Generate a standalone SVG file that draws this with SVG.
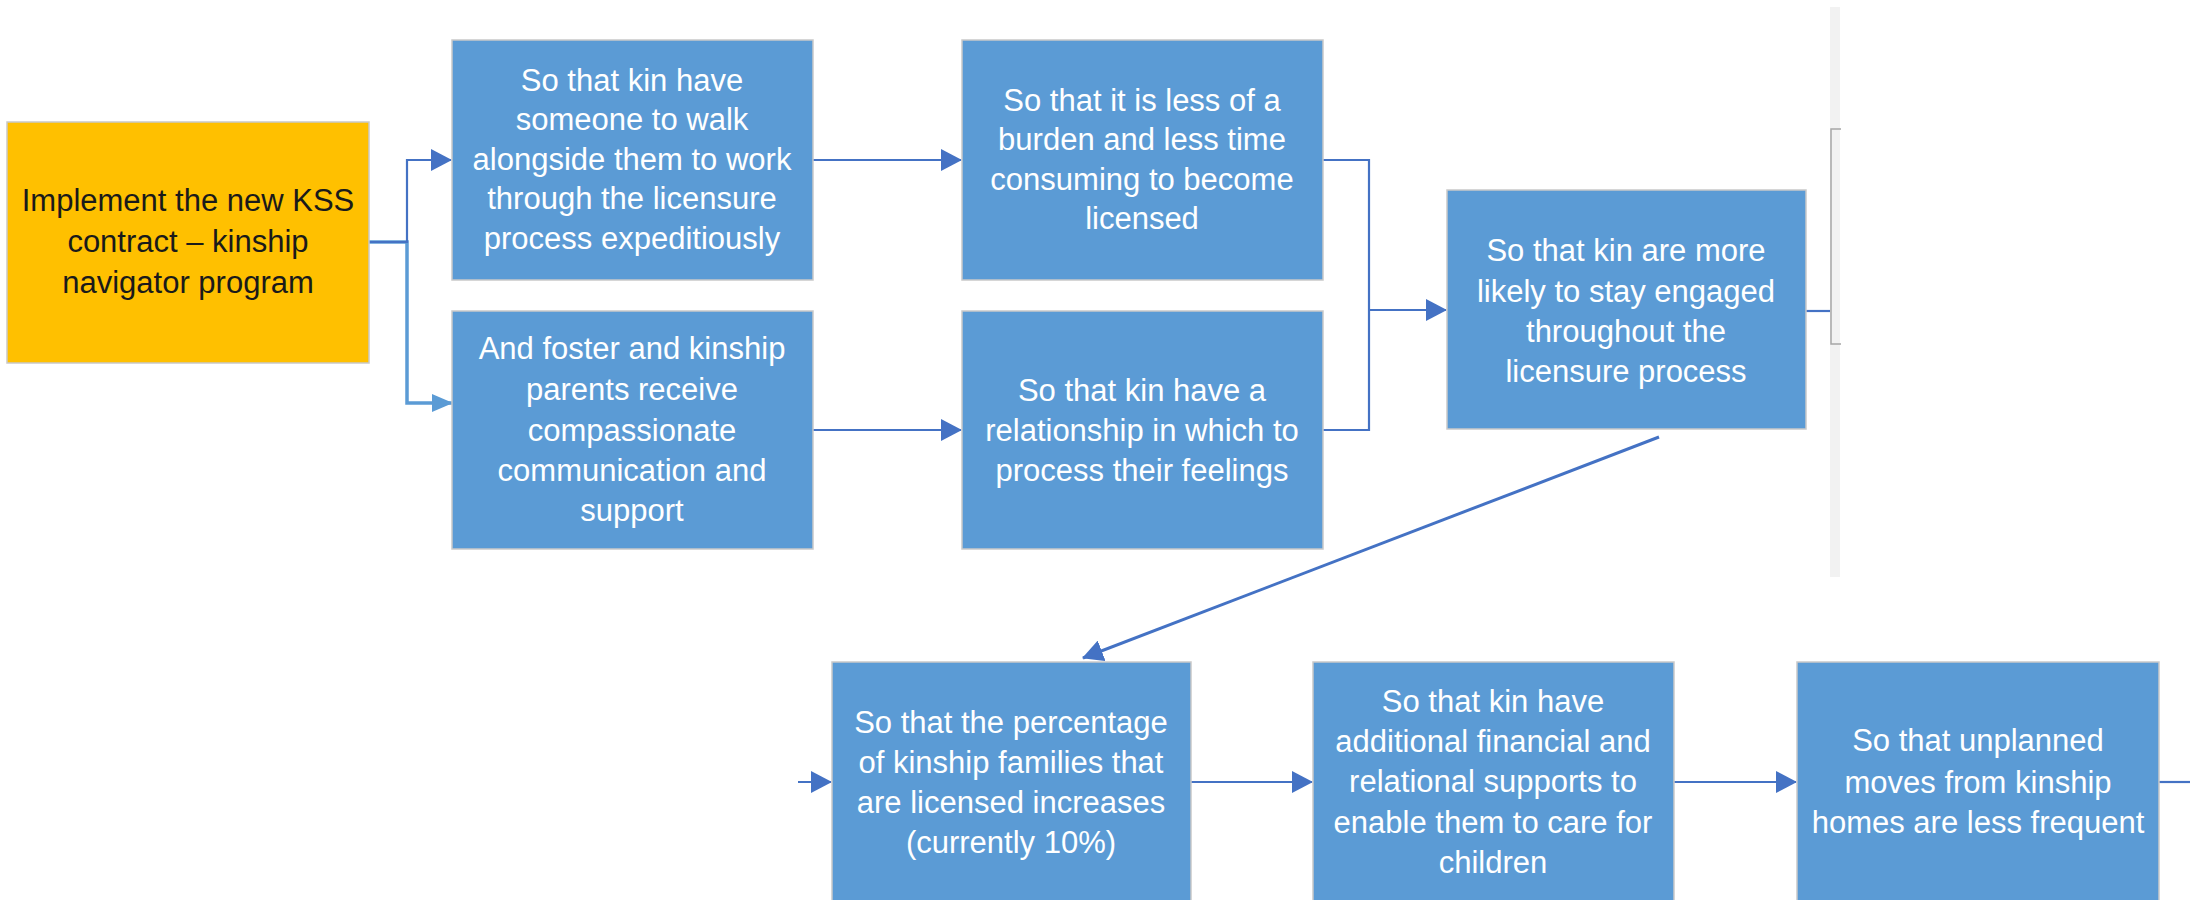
<svg xmlns="http://www.w3.org/2000/svg" width="2190" height="900" viewBox="0 0 2190 900">
<defs>
<style>
.box{fill:#5B9BD5;stroke:#C9C9C9;stroke-width:1.5}
.org{fill:#FFC000;stroke:#C9C9C9;stroke-width:1.5}
.t{font-family:"Liberation Sans",Arial,sans-serif;font-size:31px;fill:#FFFFFF;text-anchor:middle}
.tk{fill:#1A1A1A}
.c{fill:none;stroke:#4472C4;stroke-width:2.2}
</style>
<marker id="ah" markerUnits="userSpaceOnUse" markerWidth="22" markerHeight="22" refX="20" refY="11" orient="auto">
<path d="M0,0 L21,11 L0,22 Z" fill="#4472C4"/>
</marker>
<marker id="ah2" markerUnits="userSpaceOnUse" markerWidth="22" markerHeight="22" refX="20" refY="11" orient="auto">
<path d="M0,2 L21,11 L0,20 Z" fill="#5B9BD5"/>
</marker>
</defs>
<rect x="0" y="0" width="2190" height="900" fill="#FFFFFF"/>
<rect x="1830" y="7" width="10" height="570" fill="#F2F2F2"/>
<path d="M1841,129 H1831 V344 H1841" fill="none" stroke="#A6A6A6" stroke-width="1.5"/>

<g id="connectors">
<path class="c" d="M369,242 H407 V403 H452" style="stroke:#5B9BD5;stroke-width:3.5" marker-end="url(#ah2)"/>
<path class="c" d="M369,242 H407 V160 H451" marker-end="url(#ah)"/>
<path class="c" d="M813,160 H961" marker-end="url(#ah)"/>
<path class="c" d="M813,430 H961" marker-end="url(#ah)"/>
<path class="c" d="M1323,160 H1369 V430 H1323"/>
<path class="c" d="M1369,310 H1446" marker-end="url(#ah)"/>
<path class="c" d="M1806,311 H1830"/>
<path class="c" d="M1659,437 L1083,658" style="stroke-width:3" marker-end="url(#ah)"/>
<path class="c" d="M798,782 H831" marker-end="url(#ah)"/>
<path class="c" d="M1191,782 H1312" marker-end="url(#ah)"/>
<path class="c" d="M1674,782 H1796" marker-end="url(#ah)"/>
<path class="c" d="M2159,782 H2190"/>
</g>

<g id="n1">
<rect class="org" x="7" y="122" width="362" height="241"/>
<text class="t tk" x="188" y="211">Implement the new KSS</text>
<text class="t tk" x="188" y="252">contract – kinship</text>
<text class="t tk" x="188" y="293">navigator program</text>
</g>

<g id="n2">
<rect class="box" x="452" y="40" width="361" height="240"/>
<text class="t" x="632" y="91">So that kin have</text>
<text class="t" x="632" y="130">someone to walk</text>
<text class="t" x="632" y="170">alongside them to work</text>
<text class="t" x="632" y="209">through the licensure</text>
<text class="t" x="632" y="249">process expeditiously</text>
</g>

<g id="n3">
<rect class="box" x="452" y="311" width="361" height="238"/>
<text class="t" x="632" y="359">And foster and kinship</text>
<text class="t" x="632" y="400">parents receive</text>
<text class="t" x="632" y="441">compassionate</text>
<text class="t" x="632" y="481">communication and</text>
<text class="t" x="632" y="521">support</text>
</g>

<g id="n4">
<rect class="box" x="962" y="40" width="361" height="240"/>
<text class="t" x="1142" y="111">So that it is less of a</text>
<text class="t" x="1142" y="150">burden and less time</text>
<text class="t" x="1142" y="190">consuming to become</text>
<text class="t" x="1142" y="229">licensed</text>
</g>

<g id="n5">
<rect class="box" x="962" y="311" width="361" height="238"/>
<text class="t" x="1142" y="401">So that kin have a</text>
<text class="t" x="1142" y="441">relationship in which to</text>
<text class="t" x="1142" y="481">process their feelings</text>
</g>

<g id="n6">
<rect class="box" x="1447" y="190" width="359" height="239"/>
<text class="t" x="1626" y="261">So that kin are more</text>
<text class="t" x="1626" y="302">likely to stay engaged</text>
<text class="t" x="1626" y="342">throughout the</text>
<text class="t" x="1626" y="382">licensure process</text>
</g>

<g id="n7">
<rect class="box" x="832" y="662" width="359" height="250"/>
<text class="t" x="1011" y="733">So that the percentage</text>
<text class="t" x="1011" y="773">of kinship families that</text>
<text class="t" x="1011" y="813">are licensed increases</text>
<text class="t" x="1011" y="853">(currently 10%)</text>
</g>

<g id="n8">
<rect class="box" x="1313" y="662" width="361" height="250"/>
<text class="t" x="1493" y="712">So that kin have</text>
<text class="t" x="1493" y="752">additional financial and</text>
<text class="t" x="1493" y="792">relational supports to</text>
<text class="t" x="1493" y="833">enable them to care for</text>
<text class="t" x="1493" y="873">children</text>
</g>

<g id="n9">
<rect class="box" x="1797" y="662" width="362" height="250"/>
<text class="t" x="1978" y="751">So that unplanned</text>
<text class="t" x="1978" y="793">moves from kinship</text>
<text class="t" x="1978" y="833">homes are less frequent</text>
</g>
</svg>
